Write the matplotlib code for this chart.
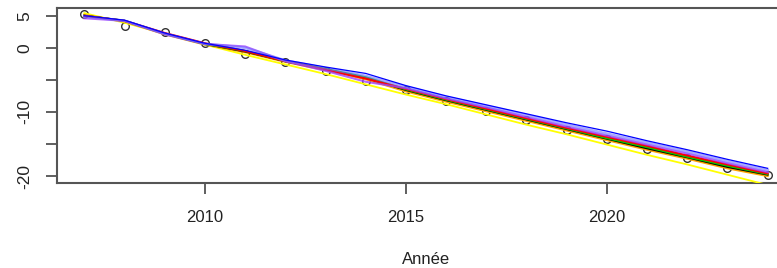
import numpy as np
import matplotlib
matplotlib.use('Agg')
import matplotlib.pyplot as plt

plt.rcParams['font.family'] = ['Liberation Sans', 'DejaVu Sans']
narrow = ['Liberation Sans Narrow', 'Liberation Sans', 'DejaVu Sans']

# Observed values
annees = [2007, 2008, 2009, 2010, 2011, 2012, 2013, 2014, 2015,
          2016, 2017, 2018, 2019, 2020, 2021, 2022, 2023, 2024]
obs = [5.2, 3.4, 2.4, 0.8, -1.0, -2.2, -3.7, -5.2, -6.6,
       -8.3, -9.8, -11.3, -12.8, -14.3, -15.8, -17.2, -18.7, -19.9]

# Fitted curves (one per model)
fit_yellow = [5.4, 3.9, 2.2, 0.5, -1.1, -2.6, -4.1, -5.7, -7.3,
              -8.8, -10.4, -12.0, -13.5, -15.1, -16.7, -18.2, -19.8, -21.4]
fit_orange = [5.1, 4.1, 2.1, 0.5, -0.7, -2.2, -3.5, -4.9, -6.8,
              -8.4, -9.9, -11.4, -12.9, -14.4, -15.9, -17.3, -18.8, -20.0]
fit_black = [5.0, 4.2, 2.2, 0.6, -0.6, -2.1, -3.4, -4.7, -6.6,
             -8.2, -9.7, -11.2, -12.7, -14.2, -15.7, -17.1, -18.6, -19.8]
fit_green = [5.0, 4.2, 2.2, 0.6, -0.5, -2.1, -3.3, -4.6, -6.5,
             -8.1, -9.6, -11.1, -12.6, -14.1, -15.5, -17.0, -18.4, -19.7]
fit_red = [5.0, 4.2, 2.3, 0.7, -0.5, -2.1, -3.4, -4.8, -6.4,
           -8.0, -9.5, -11.0, -12.5, -13.9, -15.3, -16.8, -18.2, -19.6]
fit_purple = [4.6, 4.2, 2.1, 0.6, 0.2, -2.1, -3.6, -5.3, -6.3,
              -7.9, -9.3, -10.8, -12.3, -13.7, -15.1, -16.5, -18.0, -19.4]
fit_lavender = [4.9, 4.2, 2.2, 0.6, 0.0, -2.0, -3.2, -4.4, -6.1,
                -7.7, -9.1, -10.5, -12.0, -13.4, -14.8, -16.2, -17.7, -19.1]
fit_blue = [5.0, 4.3, 2.3, 0.7, -0.4, -1.9, -3.0, -4.0, -5.9,
            -7.5, -8.9, -10.3, -11.7, -13.0, -14.5, -15.9, -17.4, -18.8]

xticks = [2010, 2015, 2020]
yticks = [5, 0, -5, -10, -15, -20]
ylabels = ['5', '0', '', '-10', '', '-20']

W, H = 777, 268
fig = plt.figure(figsize=(W / 100, H / 100), dpi=100)
# plot region runs past the right edge (as in the cropped original)
ax = fig.add_axes([57 / W, 1 - 182.7 / H, 738 / W, 174.7 / H])

ax.plot(annees, obs, 'o', mfc='none', mec='#333333', ms=5.5, mew=1, zorder=2)

ax.plot(annees, fit_yellow, color='yellow', lw=1.3, zorder=3)
ax.plot(annees, fit_orange, color='orange', lw=1.5, zorder=3)
ax.plot(annees, fit_black, color='black', lw=1.3, zorder=3)
ax.plot(annees, fit_green, color='#00cc00', lw=1.5, zorder=3)
ax.plot(annees, fit_red, color='red', lw=1.5, zorder=3)
ax.plot(annees, fit_purple, color='#a040ff', lw=1.5, alpha=0.8, zorder=3)
ax.plot(annees, fit_lavender, color='#7070ff', lw=2, alpha=0.6, zorder=3)
ax.plot(annees, fit_blue, color='blue', lw=0.9, zorder=4)

ax.set_xlim(2006.32, 2024.68)
ax.set_ylim(-21.04, 6.2)

ax.set_xticks(xticks)
ax.set_xticklabels([str(t) for t in xticks], fontsize=12, color='#222222',
                   family=narrow)
ax.set_yticks(yticks)
ax.set_yticklabels(ylabels, fontsize=12.5, rotation=90, va='center', color='#222222')
ax.tick_params(axis='both', length=8, width=1.2, color='#444444')
ax.tick_params(axis='x', pad=12)
ax.tick_params(axis='y', pad=10)

for s in ax.spines.values():
    s.set_color('#555555')
    s.set_linewidth(1.5)

ax.set_xlabel('Année', fontsize=12, color='#222222', family=narrow, labelpad=19)

fig.savefig('out.png', dpi=100)
